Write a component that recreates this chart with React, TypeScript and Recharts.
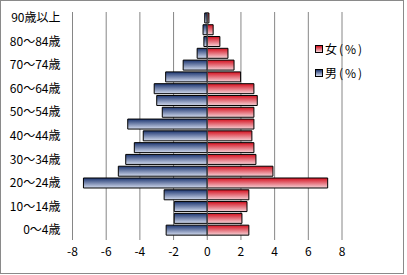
import React from "react";
import {
  BarChart,
  Bar,
  XAxis,
  YAxis,
  CartesianGrid,
  ReferenceLine,
} from "recharts";

const ageGroups = [
  "0〜4歳", "5〜9歳", "10〜14歳", "15〜19歳", "20〜24歳", "25〜29歳",
  "30〜34歳", "35〜39歳", "40〜44歳", "45〜49歳", "50〜54歳", "55〜59歳",
  "60〜64歳", "65〜69歳", "70〜74歳", "75〜79歳", "80〜84歳", "85〜89歳",
  "90歳以上",
];

// % of population, men drawn on the negative side
const male = [
  -2.44, -1.96, -1.96, -2.56, -7.35, -5.28, -4.84, -4.33, -3.8, -4.72,
  -2.67, -3.0, -3.15, -2.47, -1.43, -0.6, -0.2, -0.25, -0.15,
];
const female = [
  2.47, 2.06, 2.36, 2.47, 7.15, 3.9, 2.89, 2.77, 2.65, 2.77,
  2.77, 2.97, 2.77, 1.98, 1.59, 1.23, 0.75, 0.35, 0.1,
];

const xTicks = [-8, -6, -4, -2, 0, 2, 4, 6, 8];

const data = ageGroups.map((age, i) => ({
  age,
  male: male[i],
  female: female[i],
}));

const FONT = '"Noto Sans CJK JP", "Noto Sans", sans-serif';

export default function App() {
  return (
    <div
      style={{
        position: "absolute",
        left: 0,
        top: 0,
        width: 404,
        height: 274,
        boxSizing: "border-box",
        border: "1px solid #8a8a8a",
        background: "#fff",
        fontFamily: FONT,
      }}
    >
      <div style={{ position: "absolute", left: -1, top: -1 }}>
        <BarChart
          width={407}
          height={275}
          data={data}
          layout="vertical"
          stackOffset="sign"
          barCategoryGap="8%"
          margin={{ top: 12, right: 65, left: 0, bottom: 0 }}
        >
          <defs>
            <linearGradient id="gradMale" x1="0" y1="0" x2="0" y2="1">
              <stop offset="0%" stopColor="#1c3570" />
              <stop offset="100%" stopColor="#d3dbee" />
            </linearGradient>
            <linearGradient id="gradFemale" x1="0" y1="0" x2="0" y2="1">
              <stop offset="0%" stopColor="#d4101f" />
              <stop offset="100%" stopColor="#f6d3d8" />
            </linearGradient>
          </defs>
          <CartesianGrid horizontal={false} stroke="#868686" />
          <XAxis
            type="number"
            domain={[-8, 8]}
            ticks={xTicks}
            interval={0}
            axisLine={false}
            tickLine={{ stroke: "#868686" }}
            tickSize={4}
            tickMargin={7}
            height={39}
            tick={{ fill: "#000", fontSize: 12, fontFamily: FONT }}
          />
          <YAxis
            type="category"
            dataKey="age"
            reversed
            interval={1}
            axisLine={false}
            tickLine={false}
            tickSize={0}
            tickMargin={12}
            width={72.5}
            tick={{ fill: "#000", fontSize: 12, fontFamily: FONT }}
          />
          <Bar
            dataKey="male"
            stackId="a"
            fill="url(#gradMale)"
            stroke="#000"
            strokeWidth={1}
            isAnimationActive={false}
          />
          <Bar
            dataKey="female"
            stackId="a"
            fill="url(#gradFemale)"
            stroke="#000"
            strokeWidth={1}
            isAnimationActive={false}
          />
          <ReferenceLine x={0} stroke="#555" strokeWidth={1} />
        </BarChart>
      </div>
      {/* legend */}
      <div
        style={{
          position: "absolute",
          left: 314,
          top: 36,
          fontSize: 12,
          lineHeight: "24px",
          letterSpacing: 2,
          color: "#000",
        }}
      >
        {[
          { label: "女(%)", fill: "linear-gradient(#d4101f, #f6d3d8)" },
          { label: "男(%)", fill: "linear-gradient(#1c3570, #d3dbee)" },
        ].map((item) => (
          <div key={item.label} style={{ display: "flex", alignItems: "center" }}>
            <span
              style={{
                display: "inline-block",
                width: 6,
                height: 6,
                border: "1px solid #000",
                background: item.fill,
                marginRight: 2,
              }}
            />
            {item.label}
          </div>
        ))}
      </div>
    </div>
  );
}
